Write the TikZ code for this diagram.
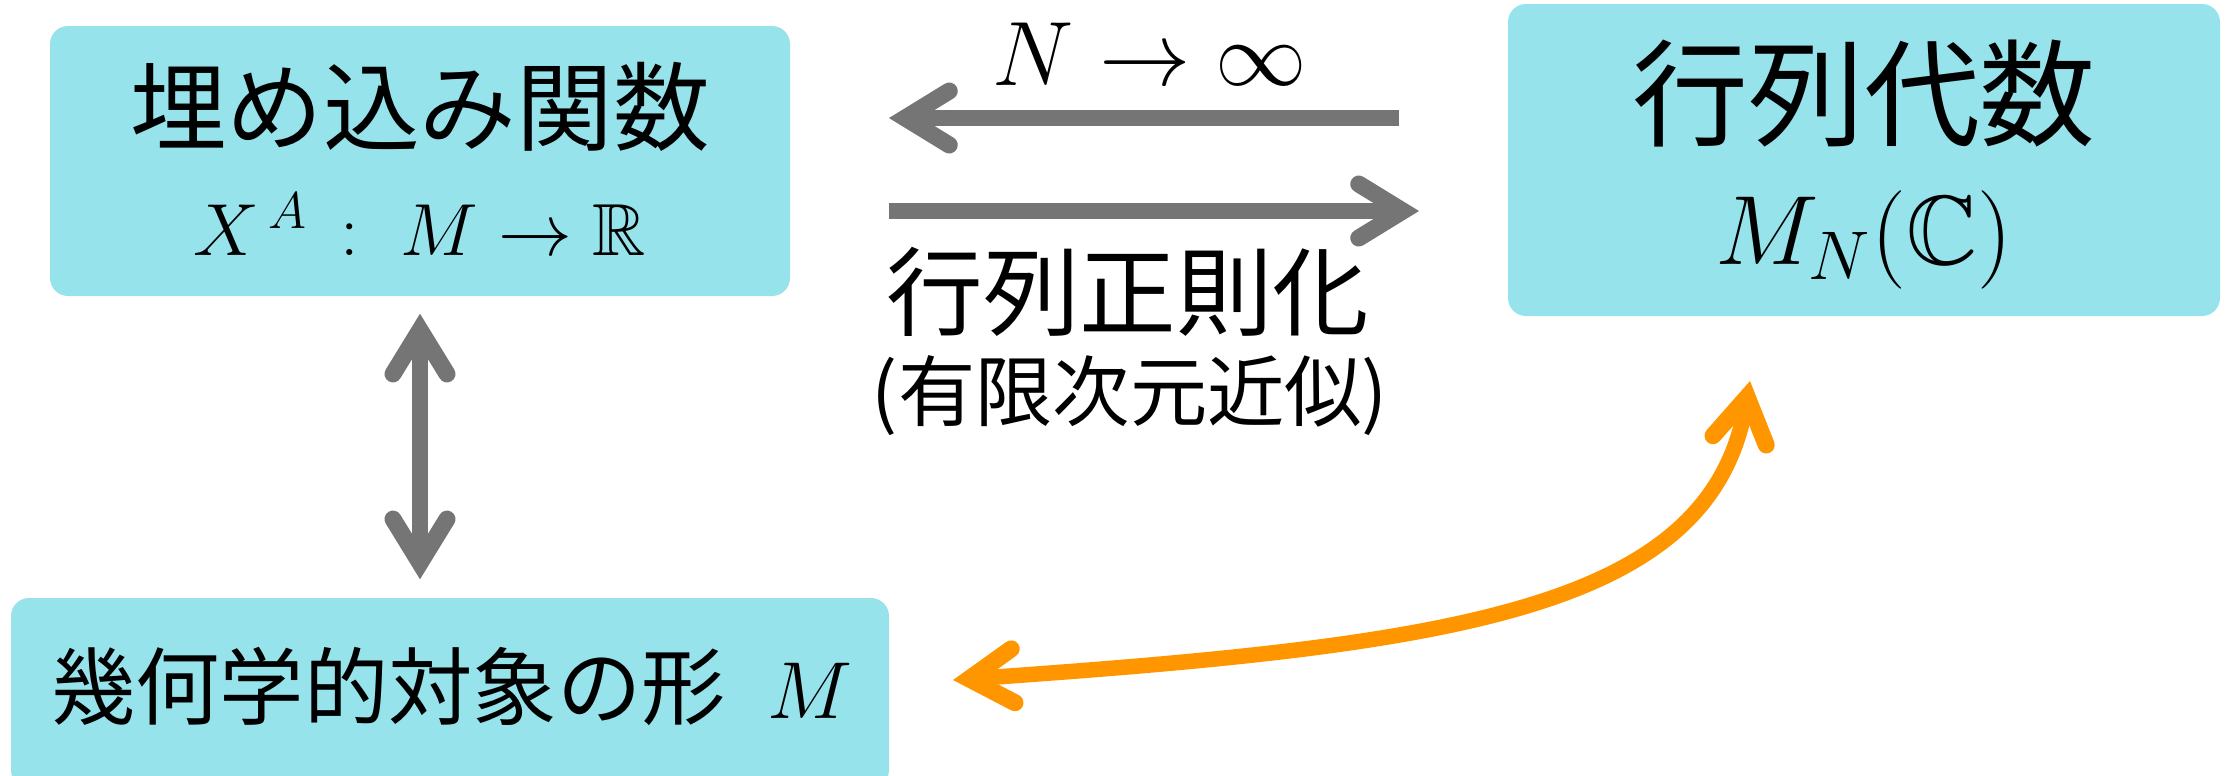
\RequirePackage{fix-cm}
\documentclass[tikz,border=0pt]{standalone}
\usepackage{amsmath,amssymb}
\usepackage{fontspec}
\newfontfamily\cjk{Noto Sans CJK JP}
\usetikzlibrary{arrows.meta}
\definecolor{boxcyan}{RGB}{150,227,236}
\definecolor{arrgray}{RGB}{117,117,117}
\definecolor{arrorange}{RGB}{255,150,0}
\begin{document}
\begin{tikzpicture}[x=0.1mm,y=-0.1mm,
  box/.style={fill=boxcyan, rounded corners=1.8mm, inner sep=0pt, draw=none},
  grayarrow/.style={draw=arrgray, line width=1.65mm},
  orangearrow/.style={draw=arrorange, line width=1.55mm},
  barbtip/.tip={Straight Barb[length=4.4mm,width=5.4mm,line width=1.7mm,line cap=round,line join=miter]},
  jp/.style={font=\cjk\fontsize{#1}{#1}\selectfont, inner sep=0pt},
  mth/.style={font=\fontsize{#1}{#1}\selectfont, inner sep=0pt}]
\useasboundingbox (0,0) rectangle (2231,775);
% boxes
\node[box, minimum width=74mm, minimum height=27mm] (emb) at (420,161) {};
\node[box, minimum width=71.2mm, minimum height=31.2mm] (mat) at (1864,160) {};
\node[box, minimum width=87.8mm, minimum height=19mm] (geo) at (450,693) {};
% texts
\node[jp=27.5] (embt) at (420,107) {埋め込み関数};
\node[mth=21] (embm) at (420,224) {$X^{\,A}\,:\;M \to \mathbb{R}$};
\node[jp=33] (matt) at (1864,94) {行列代数};
\node[mth=28] (matm) at (1864,240) {$M_{N}(\mathbb{C})$};
\node[jp=24] (geot) at (452,686) {幾何学的対象の形\hspace{0.5em}\fontsize{23}{23}\selectfont$M$};
\node[mth=26] (lim) at (1150,54) {$N \to \infty$};
\node[jp=27.5] (reg) at (1128,292) {行列正則化};
\node[jp=22] (fin) at (1130,396) {(有限次元近似)};
% connector ends
\coordinate (ua) at (1399,118);
\coordinate (ub) at (889,118);
\coordinate (la) at (889,211);
\coordinate (lb) at (1419,211);
\coordinate (oa) at (953,680);
\coordinate (ob) at (1750,381);
% arrows
\draw[grayarrow, -barbtip] (ua) -- (ub);
\draw[grayarrow, -barbtip] (la) -- (lb);
\draw[grayarrow, barbtip-barbtip, shorten <=1.7mm, shorten >=1.8mm] (emb.south) -- (emb.south |- geo.north);
\draw[orangearrow, barbtip-barbtip] (oa) .. controls (1453,645) and (1710,610) .. (ob);
\end{tikzpicture}
\end{document}
